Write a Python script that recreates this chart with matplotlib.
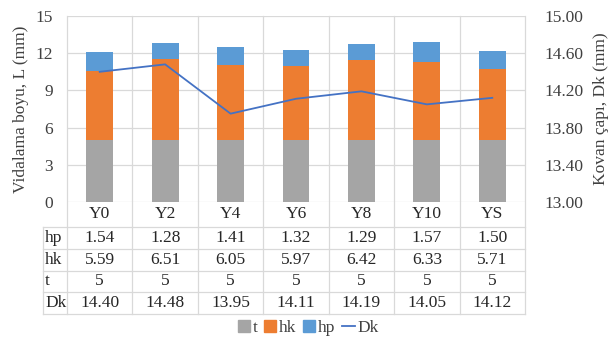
import matplotlib
matplotlib.use("Agg")
import matplotlib.pyplot as plt
import matplotlib.patches as mpatches
from matplotlib.lines import Line2D
import numpy as np

plt.rcParams["font.family"] = ["Liberation Serif", "DejaVu Serif"]

# Data
categories = ["Y0", "Y2", "Y4", "Y6", "Y8", "Y10", "YS"]
hp = [1.54, 1.28, 1.41, 1.32, 1.29, 1.57, 1.50]
hk = [5.59, 6.51, 6.05, 5.97, 6.42, 6.33, 5.71]
t = [5, 5, 5, 5, 5, 5, 5]
dk = [14.40, 14.48, 13.95, 14.11, 14.19, 14.05, 14.12]

C_T = "#A5A5A5"
C_HK = "#ED7D31"
C_HP = "#5B9BD5"
C_DK = "#4472C4"
GRID = "#D9D9D9"
TXT = "#262626"

W, H = 612, 340
fig = plt.figure(figsize=(W / 100, H / 100), dpi=100)
fig.patch.set_facecolor("white")

# plot area in pixels
px_l, px_r, px_t, px_b = 67, 525, 16, 202
ax = fig.add_axes([px_l / W, 1 - px_b / H, (px_r - px_l) / W, (px_b - px_t) / H])
ax2 = ax.twinx()

x = np.arange(len(categories))
bw = 0.41
ax.bar(x, t, bw, color=C_T, zorder=3)
ax.bar(x, hk, bw, bottom=t, color=C_HK, zorder=3)
ax.bar(x, hp, bw, bottom=np.array(t) + np.array(hk), color=C_HP, zorder=3)

ax2.plot(x, dk, color=C_DK, linewidth=1.3, zorder=4)

ax.set_xlim(-0.5, len(categories) - 0.5)
ax.set_ylim(0, 15)
ax.set_yticks(range(0, 16, 3))
ax2.set_ylim(13.0, 15.0)
rticks = np.arange(13.0, 15.01, 0.4)
ax2.set_yticks(rticks)
ax2.set_yticklabels([f"{v:.2f}" for v in rticks])

for a in (ax, ax2):
    for s in a.spines.values():
        s.set_visible(False)
    a.tick_params(length=0, labelsize=12.5, colors="#404040")
ax.set_xticks([])
ax.tick_params(axis="y", pad=10)
ax2.tick_params(axis="y", pad=14)

ax.set_ylabel("Vidalama boyu, L (mm)", fontsize=12.5, color="#404040", labelpad=5)
ax2.set_ylabel("Kovan çapı, Dk (mm)", fontsize=12.5, color="#404040", labelpad=7)

# horizontal gridlines
for yv in range(0, 16, 3):
    ax.axhline(yv, color=GRID, linewidth=0.9, zorder=1)

# data table below the plot
ah = px_b - px_t
def ypx(p):
    return (px_b - p) / ah

cw = (px_r - px_l) / len(categories)
lab_x = -0.5 + (43 - px_l) / cw
rows = [202, 226.5, 248.5, 270.5, 292, 313.5]
tf = ax.get_xaxis_transform()

for xb in np.arange(-0.5, len(categories), 1.0):
    ax.plot([xb, xb], [ypx(rows[-1]), 1], color=GRID, linewidth=0.9,
            transform=tf, clip_on=False, zorder=1)
ax.plot([lab_x, lab_x], [ypx(rows[1]), ypx(rows[-1])], color=GRID,
        linewidth=0.9, transform=tf, clip_on=False)
for r in rows[1:]:
    ax.plot([lab_x, len(categories) - 0.5], [ypx(r), ypx(r)], color=GRID,
            linewidth=0.9, transform=tf, clip_on=False)

row_labels = ["hp", "hk", "t", "Dk"]
row_values = [[f"{v:.2f}" for v in hp], [f"{v:.2f}" for v in hk],
              [f"{v:d}" for v in t], [f"{v:.2f}" for v in dk]]

yc = ypx((rows[0] + rows[1]) / 2)
for i, c in enumerate(categories):
    ax.text(i, yc, c, ha="center", va="center", fontsize=12.5,
            color=TXT, transform=tf, clip_on=False)
for k, (lbl, vals) in enumerate(zip(row_labels, row_values)):
    yc = ypx((rows[k + 1] + rows[k + 2]) / 2)
    ax.text(lab_x + 0.03, yc, lbl, ha="left", va="center", fontsize=12.5,
            color=TXT, transform=tf, clip_on=False)
    for i, v in enumerate(vals):
        ax.text(i, yc, v, ha="center", va="center", fontsize=12.5,
                color=TXT, transform=tf, clip_on=False)

handles = [
    mpatches.Patch(color=C_T, label="t"),
    mpatches.Patch(color=C_HK, label="hk"),
    mpatches.Patch(color=C_HP, label="hp"),
    Line2D([0], [0], color=C_DK, linewidth=1.3, label="Dk"),
]
fig.legend(handles=handles, loc="center", bbox_to_anchor=(308 / W, 1 - 328 / H),
           ncol=4, frameon=False, fontsize=12.5, handlelength=0.7, handleheight=0.7,
           handletextpad=0.15, columnspacing=0.4, labelcolor="#404040",
           borderpad=0, borderaxespad=0)

fig.savefig("out.png", dpi=100, facecolor="white")
